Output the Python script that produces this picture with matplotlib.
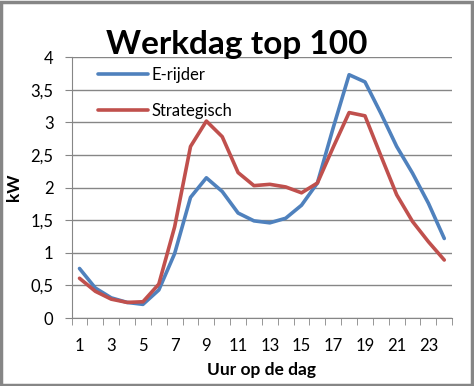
import numpy as np
import matplotlib
matplotlib.use("Agg")
import matplotlib.pyplot as plt
from matplotlib.ticker import FuncFormatter

plt.rcParams['font.family'] = ['Lato', 'DejaVu Sans']

# Gegevens
uren = list(range(1, 25))
e_rijder = [0.76, 0.46, 0.31, 0.24, 0.21, 0.43, 0.99, 1.85, 2.15, 1.94, 1.61, 1.49,
            1.46, 1.53, 1.73, 2.07, 2.92, 3.73, 3.62, 3.14, 2.63, 2.22, 1.76, 1.22]
strategisch = [0.61, 0.41, 0.29, 0.24, 0.25, 0.52, 1.40, 2.63, 3.02, 2.78, 2.23, 2.03,
               2.05, 2.01, 1.92, 2.07, 2.62, 3.15, 3.10, 2.49, 1.89, 1.48, 1.17, 0.89]
x_labels = list(range(1, 25, 2))
y_ticks = np.arange(0, 4.01, 0.5)

grijs = '#868686'

fig = plt.figure(figsize=(4.74, 3.86), dpi=100)
ax = fig.add_axes([0.151, 0.176, 0.803, 0.676])

ax.plot(uren, e_rijder, color='#4F81BD', lw=2.6, label='E-rijder', solid_capstyle='round')
ax.plot(uren, strategisch, color='#C0504D', lw=2.6, label='Strategisch', solid_capstyle='round')

ax.set_xlim(0.5, 24.5)
ax.set_ylim(0, 4)
ax.set_yticks(y_ticks)
ax.yaxis.set_major_formatter(FuncFormatter(lambda v, p: f'{v:g}'.replace('.', ',')))
ax.set_xticks(x_labels)
ax.set_xticks(np.arange(0.5, 24.6, 1), minor=True)
ax.tick_params(axis='x', which='major', length=0, labelsize=12, pad=14)
ax.tick_params(axis='x', which='minor', length=5, color=grijs, direction='out')
ax.tick_params(axis='y', length=5, color=grijs, labelsize=12, pad=8)

ax.grid(axis='y', color=grijs, lw=1)
ax.set_axisbelow(True)
for s in ['top', 'right']:
    ax.spines[s].set_visible(False)
for s in ['left', 'bottom']:
    ax.spines[s].set_color(grijs)

ax.set_xlabel('Uur op de dag', fontsize=12.5, fontweight='bold', labelpad=6)
ax.set_ylabel('kW', fontsize=12.5, fontweight='bold', labelpad=6)

fig.text(0.5, 0.885, 'Werkdag top 100', ha='center', va='center',
         fontsize=24, fontweight='bold')

ax.legend(loc='upper left', bbox_to_anchor=(0.03, 1.02), frameon=False,
          fontsize=12, handlelength=3.0, handletextpad=0.2, labelspacing=1.2)

# rand om de figuur
fig.patches.append(plt.Rectangle((0.002, 0.003), 0.994, 0.993, transform=fig.transFigure,
                                 fill=False, edgecolor=grijs, lw=2.5))

fig.savefig('out.png', dpi=100)
